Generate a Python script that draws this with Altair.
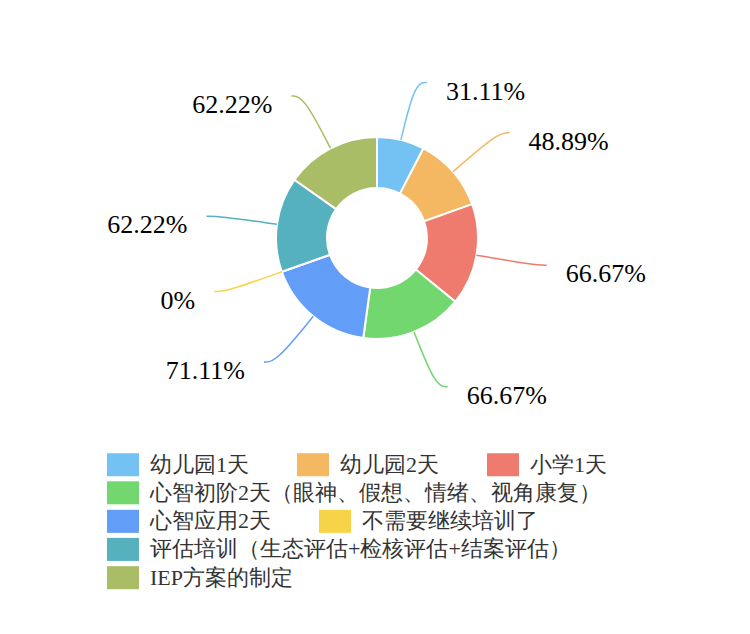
import altair as alt
import pandas as pd

# ---- data ----
categories = [
    "幼儿园1天",
    "幼儿园2天",
    "小学1天",
    "心智初阶2天（眼神、假想、情绪、视角康复）",
    "心智应用2天",
    "不需要继续培训了",
    "评估培训（生态评估+检核评估+结案评估）",
    "IEP方案的制定",
]
values = [31.11, 48.89, 66.67, 66.67, 71.11, 0, 62.22, 62.22]
colors = ["#74C1F4", "#F4B862", "#EE7B6D", "#72D76E", "#629EF7", "#F7D447", "#56B1BF", "#A9BD66"]
# legend rows (flow layout of the original legend)
legend_rows = [[0, 1, 2], [3], [4, 5], [6], [7]]

df = pd.DataFrame({"idx": list(range(len(categories))), "cat": categories,
                   "value": values, "col": colors})

# ---- geometry / style ----
W, H = 720, 600
CX, CY = 364, 225            # donut centre inside plot area (pixels)
R_IN, R_OUT = 50, 101
R_LINE, TAIL, GAP, DROP = 160, 12, 19, 9
FONT_NUM = "Liberation Serif"
FONT_LEG = "Liberation Serif"

xscale = alt.Scale(domain=[-CX, W - CX], nice=False, zero=False)
yscale = alt.Scale(domain=[CY - H, CY], nice=False, zero=False)

base = (
    alt.Chart(df)
    .transform_joinaggregate(total="sum(value)")
    .transform_window(cum="sum(value)", sort=[alt.SortField("idx")], frame=[None, 0])
    .transform_calculate(
        a0="2*PI*(datum.cum-datum.value)/datum.total",
        a1="2*PI*datum.cum/datum.total",
    )
    .transform_calculate(
        s="sin((datum.a0+datum.a1)/2)",
        c="cos((datum.a0+datum.a1)/2)",
        lbl="datum.value + '%'",
    )
)

RECT = "M-1,-0.72H1V0.72H-1Z"
legend_y0, legend_step = 435.5, 28.3

layers = []
for r, row in enumerate(legend_rows):
    cats_r = [categories[i] for i in row]
    cols_r = [colors[i] for i in row]
    arc = (
        base.transform_filter(alt.FieldOneOfPredicate(field="cat", oneOf=cats_r))
        .mark_arc(innerRadius=R_IN, outerRadius=R_OUT, stroke="white", strokeWidth=2)
        .encode(
            theta=alt.Theta("a0:Q", scale=None),
            theta2=alt.Theta2("a1:Q"),
            x=alt.X(datum=0, type="quantitative", scale=xscale, axis=None),
            y=alt.Y(datum=0, type="quantitative", scale=yscale, axis=None),
            color=alt.Color(
                "cat:N",
                scale=alt.Scale(domain=cats_r, range=cols_r),
                sort=cats_r,
                legend=alt.Legend(
                    title=None,
                    orient="none",
                    legendX=94,
                    legendY=legend_y0 + r * legend_step,
                    direction="horizontal",
                    columns=len(row),
                    symbolType=RECT,
                    symbolSize=1024,
                    symbolStrokeWidth=0,
                    symbolOpacity=1,
                    labelFont=FONT_LEG,
                    labelFontSize=22,
                    labelColor="#333333",
                    labelOffset=11,
                    labelLimit=1000,
                    columnPadding=48,
                    padding=0,
                ),
            ),
        )
    )
    layers.append(arc)

lines = (
    base.transform_calculate(k0="0", k1="1", k2="2")
    .transform_fold(["k0", "k1", "k2"], as_=["key", "step"])
    .transform_calculate(step="toNumber(datum.step)")
    .transform_calculate(
        px=f"datum.step==0 ? {R_OUT}*datum.s : (datum.step==1 ? {R_LINE}*datum.s : {R_LINE}*datum.s + (datum.s>=0?1:-1)*{TAIL})",
        py=f"(datum.step==0 ? {R_OUT} : {R_LINE})*datum.c",
    )
    .mark_line(interpolate="basis", strokeWidth=1.5)
    .encode(
        x=alt.X("px:Q", scale=xscale, axis=None),
        y=alt.Y("py:Q", scale=yscale, axis=None),
        detail="cat:N",
        order=alt.Order("step:Q"),
        stroke=alt.Stroke("col:N", scale=None),
    )
)
layers.append(lines)

for side, align in [(1, "left"), (-1, "right")]:
    cond = "datum.s >= 0" if side == 1 else "datum.s < 0"
    txt = (
        base.transform_filter(cond)
        .transform_calculate(
            tx=f"{R_LINE}*datum.s + ({side})*({TAIL}+{GAP})",
            ty=f"{R_LINE}*datum.c - {DROP}",
        )
        .mark_text(align=align, baseline="middle", font=FONT_NUM, fontSize=26, color="#000000")
        .encode(
            x=alt.X("tx:Q", scale=xscale, axis=None),
            y=alt.Y("ty:Q", scale=yscale, axis=None),
            text="lbl:N",
        )
    )
    layers.append(txt)

chart = (
    alt.layer(*layers)
    .resolve_scale(color="independent")
    .properties(width=W, height=H, background="white")
    .configure_view(stroke=None)
)

chart.save("out.html", embed_options={"renderer": "svg", "actions": False})
